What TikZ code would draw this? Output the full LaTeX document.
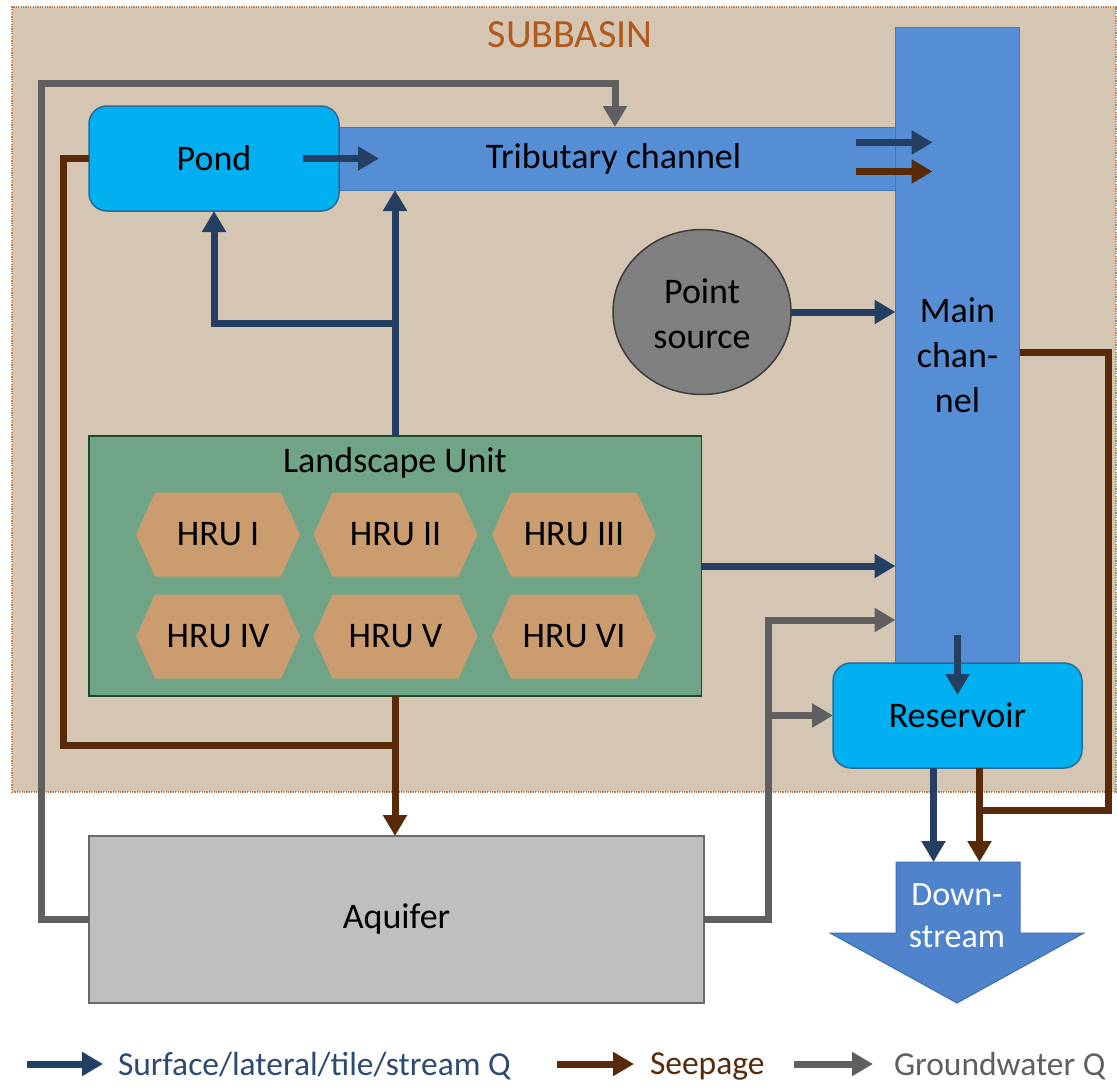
\documentclass[tikz,border=0pt]{standalone}
\usepackage{fontspec}
\setmainfont{Carlito}
\usetikzlibrary{arrows.meta,shapes.geometric}
\definecolor{cNavy}{HTML}{243F62}
\definecolor{cSeep}{HTML}{582A0A}
\definecolor{cGw}{HTML}{5F5F5F}
\definecolor{cSubFill}{HTML}{D5C6B3}
\definecolor{cSubLine}{HTML}{C27C45}
\definecolor{cSubText}{HTML}{B25A1E}
\definecolor{cPond}{HTML}{00B0F0}
\definecolor{cPondLine}{HTML}{2A6A98}
\definecolor{cChan}{HTML}{558ED5}
\definecolor{cChanLine}{HTML}{4677B5}
\definecolor{cLu}{HTML}{6FA586}
\definecolor{cLuLine}{HTML}{1E4A2A}
\definecolor{cHru}{HTML}{CB9C6D}
\definecolor{cAq}{HTML}{BFBFBF}
\definecolor{cAqLine}{HTML}{6A6A6A}
\definecolor{cPs}{HTML}{808080}
\definecolor{cPsLine}{HTML}{3C3C3C}
\definecolor{cDown}{HTML}{4F83CC}
\definecolor{cDownLine}{HTML}{3F6FAF}
\definecolor{cLegNavy}{HTML}{2C4A72}
\newcommand\hexat[2]{\fill[cHru] (#1-82,#2) -- (#1-63,#2-42) -- (#1+63,#2-42) -- (#1+82,#2) -- (#1+63,#2+42) -- (#1-63,#2+42) -- cycle;}
\begin{document}
\begin{tikzpicture}[x=1pt,y=-1pt,
  every node/.style={inner sep=0pt, outer sep=0pt, font=\fontsize{36}{45}\selectfont},
  chan/.style={draw=cChanLine, line width=1pt, fill=cChan},
  pondbox/.style={draw=cPondLine, line width=1.5pt, fill=cPond, rounded corners=18pt},
  tip/.style={-{Triangle[width=23pt,length=21pt]}},
  sq/.style={draw=cNavy, line width=7pt},
  sp/.style={draw=cSeep, line width=7pt},
  gw/.style={draw=cGw, line width=7pt},
  sqa/.style={sq, tip},
  spa/.style={sp, tip},
  gwa/.style={gw, tip},
  legtext/.style={anchor=west, font=\fontsize{33.5}{40}\selectfont}]
\useasboundingbox (0,0) rectangle (1117,1087);
% subbasin
\node[draw=cSubLine, line width=1.2pt, dash pattern=on 1.2pt off 1.2pt, fill=cSubFill,
      minimum width=1104pt, minimum height=785pt, anchor=north west] (sub) at (12,7) {};
\node[text=cSubText, font=\fontsize{40}{48}\selectfont] (subtitle) at (570,35) {SUBBASIN};
% channels and boxes
\node[chan, minimum width=557pt, minimum height=63pt] (trib) at (617.5,158.5) {};
\node (triblbl) at (613.5,159) {Tributary channel};
\node[pondbox, minimum width=250pt, minimum height=105pt] (pond) at (214,158.5) {Pond};
\node[chan, minimum width=124pt, minimum height=638pt] (main) at (957.5,346) {};
\node[align=center] (mainlbl) at (957.5,355) {Main\\chan-\\nel};
\node[ellipse, draw=cPsLine, line width=1.5pt, fill=cPs, minimum width=178pt, minimum height=165pt] (ps) at (702,312) {};
\node[align=center] (pslbl) at (702,314) {Point\\source};
\node[draw=cLuLine, line width=1.5pt, fill=cLu, minimum width=612.5pt, minimum height=260pt] (lu) at (395,566) {};
\node (lulbl) at (395,463) {Landscape Unit};
\hexat{218}{534.5}\node (hru1) at (218,534.5) {HRU I};
\hexat{395.5}{534.5}\node (hru2) at (395.5,534.5) {HRU II};
\hexat{574}{534.5}\node (hru3) at (574,534.5) {HRU III};
\hexat{218}{636.5}\node (hru4) at (218,636.5) {HRU IV};
\hexat{395.5}{636.5}\node (hru5) at (395.5,636.5) {HRU V};
\hexat{574}{636.5}\node (hru6) at (574,636.5) {HRU VI};
\node[draw=cAqLine, line width=1.5pt, fill=cAq, minimum width=615pt, minimum height=167pt] (aq) at (396.5,919.5) {Aquifer};
\node[pondbox, minimum width=249pt, minimum height=105pt] (res) at (957.5,715.5) {Reservoir};
% downstream arrow
\filldraw[fill=cDown, draw=cDownLine, line width=1pt] (896,862) -- (1020,862) -- (1020,933) -- (1084,933) -- (957,1003) -- (830,933) -- (896,933) -- cycle;
\node[align=center, text=white, font=\fontsize{34}{42}\selectfont] (down) at (957,916) {Down-\\stream};
\coordinate (dtop) at (957,862);
% groundwater loop to tributary
\coordinate (gc1) at (41,83);
\coordinate (gc2) at (615,83);
\draw[gwa] (aq.west) -| (gc1) -- (gc2) -- (gc2 |- trib.north);
% pond to tributary
\draw[sqa] ([xshift=-36pt]pond.east) -- ([xshift=40pt]pond.east);
% landscape unit up
\coordinate (b1) at (395,323);
\draw[sqa] (lu.north) -- (lu.north |- trib.south);
\draw[sqa] (b1) -| (pond.south);
% tributary to main
\coordinate (tm) at (main.west |- trib.center);
\draw[sqa] ([xshift=-40pt,yshift=16pt]tm) -- ([xshift=37pt,yshift=16pt]tm);
\draw[spa] ([xshift=-40pt,yshift=-13pt]tm) -- ([xshift=37pt,yshift=-13pt]tm);
% point source
\draw[sqa] (ps.east) -- (ps.east -| main.west);
% landscape unit to main
\draw[sqa] (lu.east) -- (lu.east -| main.west);
% groundwater from aquifer
\coordinate (g3) at (768,620);
\coordinate (g4) at (768,715.5);
\draw[gwa] (aq.east) -| (g3) -- (g3 -| main.west);
\draw[gwa] (g4) -- (res.west);
% main to reservoir
\draw[sqa] ([yshift=28pt]res.north) -- ([yshift=-32pt]res.north);
% seepage to aquifer
\coordinate (s1) at (63,745);
\draw[sp] (pond.west) -| (s1) -- (s1 -| lu.south);
\draw[spa] (lu.south) -- (lu.south |- aq.north);
% reservoir outflows
\coordinate (rb) at ([xshift=22pt]res.south);
\coordinate (rn) at ([xshift=-24pt]res.south);
\coordinate (s2) at (1108,810);
\draw[sp] ([yshift=-6pt]main.east) -| (s2) -- (s2 -| rb);
\draw[sqa] (rn) -- (rn |- dtop);
\draw[spa] (rb) -- (rb |- dtop);
% legend
\node[legtext, text=cLegNavy] (lg1) at (118,1066) {Surface/lateral/tile/stream Q};
\node[legtext, text=cSeep] (lg2) at (650,1066) {Seepage};
\node[legtext, text=cGw] (lg3) at (894,1066) {Groundwater Q};
\draw[sqa] ([xshift=-91pt,yshift=2pt]lg1.west) -- ([xshift=-15pt,yshift=2pt]lg1.west);
\draw[spa] ([xshift=-93pt,yshift=2pt]lg2.west) -- ([xshift=-16pt,yshift=2pt]lg2.west);
\draw[gwa] ([xshift=-100pt,yshift=2pt]lg3.west) -- ([xshift=-21pt,yshift=2pt]lg3.west);
\end{tikzpicture}
\end{document}
